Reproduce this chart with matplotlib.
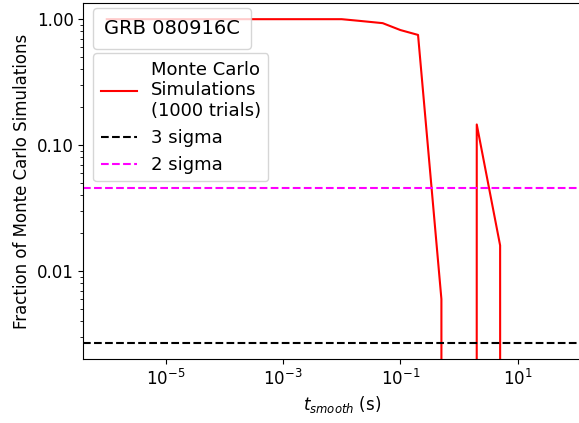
import numpy as np
import matplotlib
matplotlib.use('Agg')
import matplotlib.pyplot as plt
from matplotlib.legend import Legend
from matplotlib.lines import Line2D
from matplotlib.ticker import FormatStrFormatter, NullLocator

# smoothing timescales (s) and fraction of MC trials above the observed value
t_smooth = [1e-6, 1e-5, 1e-4, 1e-3, 0.01, 0.02, 0.05, 0.1, 0.2, 0.5, 1, 2, 5, 10, 20, 50, 100]
fraction = [1.0, 1.0, 1.0, 1.0, 1.0, 0.97, 0.93, 0.82, 0.75, 0.006, 0.0, 0.146, 0.016, 0.0, 0.0, 0.0, 0.0]
x_ticks = [1e-5, 1e-3, 1e-1, 1e1]

sigma3 = 0.0027
sigma2 = 0.0455
grb_name = 'GRB 080916C'

fig = plt.figure(figsize=(5.79, 4.23), dpi=100)
W, H = 579, 423
ax = fig.add_axes([83.3 / W, (H - 359) / H, (600 - 83.3) / W, (359 - 3) / H])

ax.plot(t_smooth, fraction, color='red', lw=1.5, label='Monte Carlo\nSimulations\n(1000 trials)')
ax.axhline(sigma3, color='black', ls='--', lw=1.5, label='3 sigma')
ax.axhline(sigma2, color='magenta', ls='--', lw=1.5, label='2 sigma')

ax.set_xscale('log')
ax.set_yscale('log')
ax.set_xlim(10 ** -6.4, 10 ** 2.4)
ax.set_xticks(x_ticks)
ax.xaxis.set_minor_locator(NullLocator())
ax.yaxis.set_major_formatter(FormatStrFormatter('%.2f'))
ax.tick_params(labelsize=12)

ax.set_xlabel(r'$t_{smooth}$ (s)', fontsize=12)
ax.set_ylabel('Fraction of Monte Carlo Simulations', fontsize=12)

leg = ax.legend(loc='upper left', fontsize=13, borderaxespad=0,
                bbox_to_anchor=(93.3 / W, 1 - 53.3 / H), bbox_transform=fig.transFigure)

# name of the burst in its own box, an entry with an invisible handle
blank = Line2D([], [], linestyle='none')
name_box = Legend(ax, [blank], [grb_name], fontsize=14, loc='upper left', borderaxespad=0,
                  handlelength=0, handletextpad=0, borderpad=0.55,
                  bbox_to_anchor=(93.3 / W, 1 - 8.3 / H), bbox_transform=fig.transFigure)
ax.add_artist(name_box)

fig.savefig('out.png', dpi=100)
